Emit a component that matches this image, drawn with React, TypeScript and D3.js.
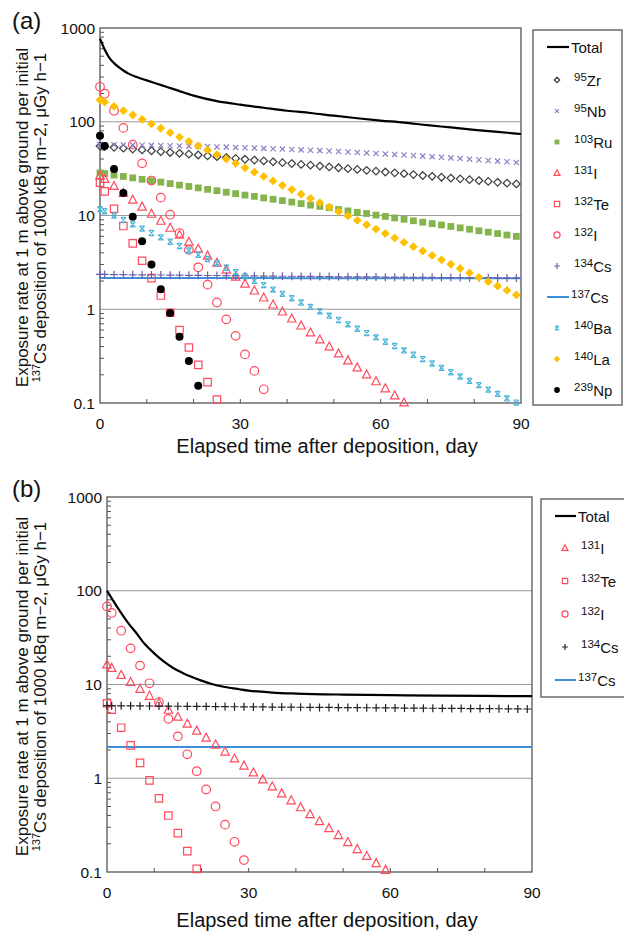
import { useEffect, useRef } from "react";
import * as d3 from "d3";

// days at which the nuclide markers are plotted
const markDays = [0, 1, 3, 5, 7, 9, 11, 13, 15, 17, 19, 21, 23, 25, 27, 29, 31, 33, 35, 37, 39, 41, 43, 45,
  47, 49, 51, 53, 55, 57, 59, 61, 63, 65, 67, 69, 71, 73, 75, 77, 79, 81, 83, 85, 87, 89];

const xTickLabels = [0, 30, 60, 90];
const xMinorTicks = [10, 20, 30, 40, 50, 60, 70, 80];
const yTickLabels = [0.1, 1, 10, 100, 1000];
const gridValues = [1, 10, 100];

// ---- panel (a)
const totalDaysA = [0, 1, 2, 3, 4, 5, 6, 8, 10, 12, 14, 17, 20, 25, 30, 35, 40, 45, 50, 55, 60, 65, 70, 75, 80, 85, 90];
const totalA = [770, 590, 480, 422, 382, 352, 328, 298, 276, 256, 238, 212, 190, 166, 152, 141, 131, 124, 116, 109, 103, 98, 92, 87, 82, 78, 74];
const zr95A = [55, 54.4, 53.3, 52.2, 51.1, 50.1, 49.0, 48.0, 47.0, 46.1, 45.1, 44.2, 43.3, 42.4, 41.5, 40.6, 39.8, 39.0,
  38.2, 37.4, 36.6, 35.8, 35.1, 34.4, 33.7, 33.0, 32.3, 31.6, 31.0, 30.3, 29.7, 29.1, 28.5, 27.9, 27.3, 26.7, 26.2,
  25.6, 25.1, 24.6, 24.1, 23.6, 23.1, 22.6, 22.1, 21.7];
const nb95A = [57.0, 56.9, 56.8, 56.6, 56.4, 56.2, 56.0, 55.8, 55.5, 55.2, 54.9, 54.6, 54.3, 53.9, 53.6, 53.2, 52.8, 52.4,
  52.0, 51.5, 51.1, 50.6, 50.1, 49.7, 49.2, 48.7, 48.1, 47.6, 47.0, 46.5, 45.9, 45.4, 44.8, 44.2, 43.6, 43.0, 42.4,
  41.8, 41.2, 40.5, 39.9, 39.3, 38.6, 38.0, 37.4, 36.7];
const ru103A = [28.5, 28.0, 27.0, 26.1, 25.2, 24.3, 23.5, 22.7, 21.9, 21.1, 20.4, 19.7, 19.0, 18.4, 17.7, 17.1, 16.5, 16.0,
  15.4, 14.9, 14.4, 13.9, 13.4, 12.9, 12.5, 12.1, 11.6, 11.2, 10.8, 10.5, 10.1, 9.77, 9.43, 9.11, 8.79, 8.49, 8.20,
  7.92, 7.64, 7.38, 7.13, 6.88, 6.64, 6.42, 6.19, 5.98];
const i131A = [26.7, 24.5, 20.6, 17.4, 14.7, 12.4, 10.4, 8.76, 7.38, 6.22, 5.24, 4.41, 3.72, 3.13, 2.64, 2.22, 1.87, 1.58,
  1.33, 1.12, 0.943, 0.794, 0.669, 0.564, 0.475, 0.400, 0.337, 0.284, 0.239, 0.201, 0.170, 0.143, 0.120, 0.101];
const te132A = [22.4, 18.1, 11.8, 7.72, 5.04, 3.29, 2.15, 1.40, 0.917, 0.599, 0.391, 0.255, 0.167, 0.109];
const i132A = [236, 199, 131, 86, 57, 36, 23.6, 15.5, 10.2, 6.5, 4.3, 2.8, 1.83, 1.18, 0.78, 0.52, 0.33, 0.22, 0.14];
const cs134A = [2.35, 2.35, 2.34, 2.34, 2.33, 2.33, 2.32, 2.32, 2.31, 2.31, 2.30, 2.30, 2.29, 2.29, 2.28, 2.28, 2.27, 2.27,
  2.26, 2.26, 2.25, 2.25, 2.24, 2.24, 2.23, 2.23, 2.22, 2.22, 2.21, 2.21, 2.21, 2.20, 2.20, 2.20, 2.19, 2.19, 2.19,
  2.18, 2.18, 2.18, 2.17, 2.17, 2.17, 2.16, 2.16, 2.16];
const cs137Days = [0, 30, 60, 90];
const cs137A = [2.15, 2.15, 2.14, 2.14];
const ba140A = [11.7, 11.1, 9.97, 8.96, 8.05, 7.24, 6.50, 5.85, 5.25, 4.72, 4.24, 3.81, 3.43, 3.08, 2.77, 2.49, 2.24, 2.01,
  1.81, 1.62, 1.46, 1.31, 1.18, 1.06, 0.951, 0.855, 0.768, 0.690, 0.620, 0.557, 0.501, 0.450, 0.405, 0.364, 0.327,
  0.294, 0.264, 0.237, 0.213, 0.192, 0.172, 0.155, 0.139, 0.125, 0.112, 0.101];
const la140A = [171, 162, 146, 131, 118, 106, 94.9, 85.2, 76.5, 68.7, 61.7, 55.4, 49.7, 44.7, 40.1, 36.0, 32.3, 29.0,
  26.1, 23.4, 21.0, 18.9, 16.9, 15.2, 13.7, 12.3, 11.0, 9.89, 8.88, 7.97, 7.16, 6.43, 5.77, 5.18, 4.65, 4.18, 3.75,
  3.37, 3.02, 2.72, 2.44, 2.19, 1.97, 1.77, 1.59, 1.42];
const np239A = [71, 55, 31.4, 17.4, 9.7, 5.3, 3.0, 1.63, 0.91, 0.51, 0.28, 0.153];

// ---- panel (b)
const totalDaysB = [0, 1, 2, 3, 4, 5, 6, 8, 10, 12, 14, 16, 18, 20, 22, 25, 28, 30, 35, 40, 50, 60, 70, 80, 90];
const totalB = [100, 83, 69, 58, 49, 42, 36.5, 27, 21.5, 17.6, 15.0, 13.3, 12.0, 11.0, 10.2, 9.4, 8.9, 8.6, 8.2, 8.0, 7.8, 7.7, 7.6, 7.55, 7.5];
const i131B = [16.3, 15.0, 12.6, 10.6, 8.96, 7.55, 6.36, 5.36, 4.52, 3.81, 3.21, 2.70, 2.28, 1.92, 1.62, 1.36, 1.15,
  0.969, 0.817, 0.688, 0.580, 0.489, 0.412, 0.347, 0.293, 0.247, 0.208, 0.175, 0.148, 0.124, 0.105];
const te132B = [6.3, 5.4, 3.46, 2.24, 1.46, 0.95, 0.61, 0.40, 0.26, 0.167, 0.108];
const i132B = [68, 58, 37.5, 24.3, 15.9, 10.3, 6.5, 4.3, 2.8, 1.80, 1.19, 0.76, 0.50, 0.32, 0.21, 0.134];
const cs134B = [5.95, 5.94, 5.93, 5.92, 5.91, 5.90, 5.88, 5.87, 5.86, 5.85, 5.84, 5.83, 5.82, 5.81, 5.79, 5.78, 5.77,
  5.76, 5.75, 5.74, 5.73, 5.72, 5.71, 5.70, 5.69, 5.68, 5.67, 5.66, 5.65, 5.64, 5.63, 5.62, 5.61, 5.60, 5.59, 5.58,
  5.57, 5.56, 5.55, 5.54, 5.53, 5.52, 5.51, 5.50, 5.49, 5.48];
const cs137B = [2.15, 2.15, 2.15, 2.15];

const FONT = "'Liberation Sans', Arial, Helvetica, sans-serif";
const RED = "#ff4b5c";

const seriesA = [
  { sup: "95", name: "Zr", values: zr95A, shape: "diamond", color: "#3c3c3c", filled: false, size: 3.8 },
  { sup: "95", name: "Nb", values: nb95A, shape: "times", color: "#8f7fc4", filled: false, size: 2.6 },
  { sup: "103", name: "Ru", values: ru103A, shape: "square", color: "#86b44c", filled: true, size: 3.4 },
  { sup: "131", name: "I", values: i131A, shape: "triangle", color: RED, filled: false, size: 4.2 },
  { sup: "132", name: "Te", values: te132A, shape: "square", color: RED, filled: false, size: 3.7 },
  { sup: "132", name: "I", values: i132A, shape: "circle", color: RED, filled: false, size: 4.3 },
  { sup: "134", name: "Cs", values: cs134A, shape: "plus", color: "#6e5ea6", filled: false, size: 4 },
  { sup: "137", name: "Cs", values: cs137A, days: cs137Days, shape: "line", color: "#3d8fd8" },
  { sup: "140", name: "Ba", values: ba140A, shape: "hourglass", color: "#4cb4d8", filled: false, size: 2.6 },
  { sup: "140", name: "La", values: la140A, shape: "diamond", color: "#ffc000", filled: true, size: 4.4 },
  { sup: "239", name: "Np", values: np239A, shape: "circle", color: "#000", filled: true, size: 4 },
];

const seriesB = [
  { sup: "131", name: "I", values: i131B, shape: "triangle", color: RED, filled: false, size: 4.2 },
  { sup: "132", name: "Te", values: te132B, shape: "square", color: RED, filled: false, size: 3.7 },
  { sup: "132", name: "I", values: i132B, shape: "circle", color: RED, filled: false, size: 4.3 },
  { sup: "134", name: "Cs", values: cs134B, shape: "plus", color: "#222", filled: false, size: 4 },
  { sup: "137", name: "Cs", values: cs137B, days: cs137Days, shape: "line", color: "#3d8fd8" },
];

const panels = [
  {
    tag: "(a)", tagY: 29, left: 100, right: 521, top: 28, bottom: 403,
    tickY: 429, titleY: 453, totalDays: totalDaysA, total: totalA, series: seriesA,
    legend: { x: 533, y: 30, w: 89, h: 375, symX: 557, lineX1: 547, lineX2: 569, textX: 571, firstY: 47, y0: 80, step: 31 },
  },
  {
    tag: "(b)", tagY: 497, left: 107, right: 532, top: 497, bottom: 872,
    tickY: 898, titleY: 927, totalDays: totalDaysB, total: totalB, series: seriesB,
    legend: { x: 541, y: 499, w: 86, h: 198, symX: 565, lineX1: 555, lineX2: 576, textX: 578, firstY: 516, y0: 548, step: 33 },
  },
];

const shapePath = (shape: string, s: number) => {
  switch (shape) {
    case "diamond":
      return `M0,${-s}L${s},0L0,${s}L${-s},0Z`;
    case "square":
      return `M${-s},${-s}H${s}V${s}H${-s}Z`;
    case "triangle":
      return `M0,${-s * 1.1}L${s},${s * 0.8}L${-s},${s * 0.8}Z`;
    case "circle":
      return `M${s},0A${s},${s} 0 1,1 ${-s},0A${s},${s} 0 1,1 ${s},0Z`;
    case "times":
      return `M${-s},${-s}L${s},${s}M${s},${-s}L${-s},${s}`;
    case "plus":
      return `M${-s},0H${s}M0,${-s}V${s}`;
    case "hourglass":
      return `M${-s},${-s}H${s}M${-s},${s}H${s}M${-s},${-s}L${s},${s}M${s},${-s}L${-s},${s}`;
    default:
      return "";
  }
};

const drawPanel = (svg: any, p: any) => {
  const x = d3.scaleLinear().domain([0, 90]).range([p.left, p.right]);
  const y = d3.scaleLog().domain([0.1, 1000]).range([p.bottom, p.top]);
  const g = svg.append("g").attr("font-family", FONT).attr("fill", "#111");

  // horizontal grid lines
  g.append("g")
    .selectAll("line")
    .data(gridValues)
    .join("line")
    .attr("x1", p.left)
    .attr("x2", p.right)
    .attr("y1", (d: number) => y(d))
    .attr("y2", (d: number) => y(d))
    .attr("stroke", "#9a9a9a")
    .attr("stroke-width", 1.2);

  // minor log ticks on the left axis
  const minor: number[] = [];
  for (const dec of [0.1, 1, 10, 100]) for (let k = 2; k < 10; k++) minor.push(dec * k);
  g.append("g")
    .selectAll("line")
    .data(minor)
    .join("line")
    .attr("x1", p.left)
    .attr("x2", p.left + 4)
    .attr("y1", (d: number) => y(d))
    .attr("y2", (d: number) => y(d))
    .attr("stroke", "#555");

  g.append("g")
    .selectAll("line")
    .data(xMinorTicks)
    .join("line")
    .attr("x1", (d: number) => x(d))
    .attr("x2", (d: number) => x(d))
    .attr("y1", p.bottom)
    .attr("y2", p.bottom - 4)
    .attr("stroke", "#555");

  g.append("rect")
    .attr("x", p.left)
    .attr("y", p.top)
    .attr("width", p.right - p.left)
    .attr("height", p.bottom - p.top)
    .attr("fill", "none")
    .attr("stroke", "#555")
    .attr("stroke-width", 1.3);

  // tick labels
  g.append("g")
    .selectAll("text")
    .data(yTickLabels)
    .join("text")
    .attr("x", p.left - 5)
    .attr("y", (d: number) => y(d) + 5.5)
    .attr("text-anchor", "end")
    .attr("font-size", 15.5)
    .text((d: number) => String(d));

  g.append("g")
    .selectAll("text")
    .data(xTickLabels)
    .join("text")
    .attr("x", (d: number) => x(d))
    .attr("y", p.tickY)
    .attr("text-anchor", "middle")
    .attr("font-size", 15.5)
    .text((d: number) => String(d));

  g.append("text")
    .attr("x", 327)
    .attr("y", p.titleY)
    .attr("text-anchor", "middle")
    .attr("font-size", 20)
    .text("Elapsed time after deposition, day");

  const cy = (p.top + p.bottom) / 2 + 2;
  g.append("text")
    .attr("transform", `translate(28,${cy}) rotate(-90)`)
    .attr("text-anchor", "middle")
    .attr("font-size", 17)
    .text("Exposure rate at 1 m above ground per initial");
  const t2 = g.append("text")
    .attr("transform", `translate(46,${cy}) rotate(-90)`)
    .attr("text-anchor", "middle")
    .attr("font-size", 17);
  t2.append("tspan").attr("font-size", 11).attr("dy", -6).text("137");
  t2.append("tspan").attr("dy", 6).text("Cs deposition of 1000 kBq m\u22122, \u03bcGy h\u22121");

  g.append("text").attr("x", 12).attr("y", p.tagY).attr("font-size", 24).text(p.tag);

  // lines
  const line = d3
    .line<[number, number]>()
    .x((d) => x(d[0]))
    .y((d) => y(d[1]))
    .curve(d3.curveMonotoneX);

  for (const s of p.series.filter((s: any) => s.shape === "line")) {
    g.append("path")
      .datum(d3.zip(s.days, s.values))
      .attr("d", line)
      .attr("fill", "none")
      .attr("stroke", s.color)
      .attr("stroke-width", 2);
  }

  // markers
  for (const s of p.series.filter((s: any) => s.shape !== "line")) {
    g.append("g")
      .selectAll("path")
      .data(s.values.map((v: number, i: number) => [markDays[i], v]))
      .join("path")
      .attr("transform", (d: number[]) => `translate(${x(d[0])},${y(d[1])})`)
      .attr("d", shapePath(s.shape, s.size))
      .attr("fill", s.filled ? s.color : "none")
      .attr("stroke", s.filled ? "none" : s.color)
      .attr("stroke-width", 1.2);
  }

  g.append("path")
    .datum(d3.zip(p.totalDays, p.total))
    .attr("d", line)
    .attr("fill", "none")
    .attr("stroke", "#000")
    .attr("stroke-width", 2.2);

  // legend
  const L = p.legend;
  const lg = g.append("g");
  lg.append("rect")
    .attr("x", L.x)
    .attr("y", L.y)
    .attr("width", L.w)
    .attr("height", L.h)
    .attr("fill", "#fff")
    .attr("stroke", "#555")
    .attr("stroke-width", 1.3);
  lg.append("line")
    .attr("x1", L.lineX1)
    .attr("x2", L.lineX2)
    .attr("y1", L.firstY)
    .attr("y2", L.firstY)
    .attr("stroke", "#000")
    .attr("stroke-width", 2.2);
  lg.append("text").attr("x", L.textX).attr("y", L.firstY + 5.5).attr("font-size", 15).text("Total");

  p.series.forEach((s: any, i: number) => {
    const yy = L.y0 + i * L.step;
    if (s.shape === "line") {
      lg.append("line")
        .attr("x1", L.lineX1)
        .attr("x2", L.lineX2)
        .attr("y1", yy)
        .attr("y2", yy)
        .attr("stroke", s.color)
        .attr("stroke-width", 2);
    } else {
      lg.append("path")
        .attr("transform", `translate(${L.symX},${yy})`)
        .attr("d", shapePath(s.shape, s.size * 0.72))
        .attr("fill", s.filled ? s.color : "none")
        .attr("stroke", s.filled ? "none" : s.color)
        .attr("stroke-width", 1.2);
    }
    const t = lg.append("text")
      .attr("x", s.shape === "line" ? L.textX : L.textX + 3)
      .attr("y", yy + 5.5)
      .attr("font-size", 15);
    t.append("tspan").attr("font-size", 11.5).attr("dy", -4.5).text(s.sup);
    t.append("tspan").attr("dy", 4.5).text(s.name);
  });
};

const App = () => {
  const svgRef = useRef<SVGSVGElement | null>(null);

  useEffect(() => {
    const svg = d3.select(svgRef.current);
    svg.selectAll("*").remove();
    panels.forEach((p) => drawPanel(svg, p));
    return () => {
      svg.selectAll("*").remove();
    };
  }, []);

  return (
    <svg
      ref={svgRef}
      width={624}
      height={931}
      style={{ position: "absolute", left: 0, top: 0, background: "#fff" }}
    />
  );
};

export default App;
